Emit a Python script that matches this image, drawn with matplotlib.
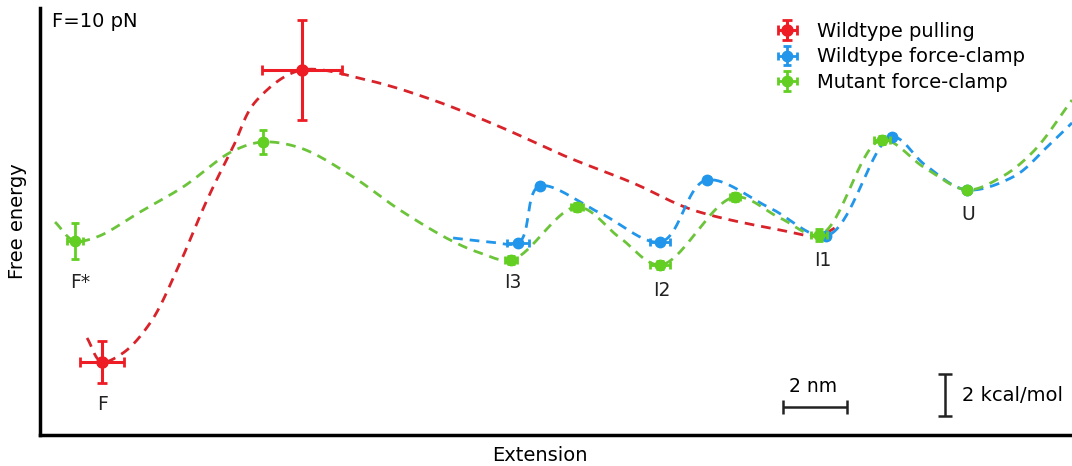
import matplotlib.pyplot as plt
import numpy as np

# units: extension in nm, free energy in kcal/mol (arbitrary origin)
red_x = [1.94, 8.19]
red_y = [3.48, 17.38]
red_xerr = [0.69, 1.25]
red_yerr = [1.0, 2.38]

blue_x = [14.94, 15.63, 19.38, 20.84, 24.56, 26.63, 28.97]
blue_y = [9.14, 11.86, 9.19, 12.14, 9.48, 14.19, 11.67]
blue_xerr = [0.34, 0.1, 0.31, 0.1, 0.1, 0.1, 0.1]
blue_yerr = [0.1, 0.1, 0.1, 0.1, 0.1, 0.1, 0.1]

green_x = [1.09, 6.97, 14.72, 16.78, 19.38, 21.72, 24.34, 26.31, 28.97]
green_y = [9.24, 13.95, 8.33, 10.86, 8.10, 11.33, 9.52, 14.05, 11.67]
green_xerr = [0.25, 0.1, 0.2, 0.2, 0.31, 0.15, 0.25, 0.25, 0.1]
green_yerr = [0.86, 0.57, 0.2, 0.2, 0.2, 0.2, 0.3, 0.2, 0.1]

# knots of the dashed landscape curves
red_curve_x = [1.47, 1.94, 2.59, 3.44, 4.28, 5.22, 6.03, 6.78, 8.19, 10.22, 12.28,
               14.38, 16.47, 18.53, 20.41, 23.13, 24.31, 24.94]
red_curve_y = [4.62, 3.48, 3.90, 5.33, 7.86, 11.19, 13.71, 15.95, 17.38, 16.90, 15.95,
               14.67, 13.24, 12.00, 10.71, 9.76, 9.48, 9.95]

green_curve_x = [0.47, 1.09, 1.78, 3.13, 4.47, 6.03, 6.97, 8.13, 9.69, 11.25, 12.81, 13.75,
                 14.72, 16.78, 18.13, 19.38, 21.72, 23.13, 24.34, 26.31, 27.66, 28.97,
                 30.0, 31.03, 32.25]
green_curve_y = [10.14, 9.24, 9.43, 10.62, 11.81, 13.52, 13.95, 13.67, 12.38, 10.71, 9.29, 8.67,
                 8.33, 10.86, 9.38, 8.10, 11.33, 10.33, 9.52, 14.05, 12.71, 11.67,
                 12.24, 13.48, 15.95]

blue_curve_x = [12.91, 14.06, 14.94, 15.63, 17.5, 19.38, 20.84, 22.81, 24.56, 26.63, 27.66,
                28.97, 30.41, 31.47, 32.25]
blue_curve_y = [9.38, 9.19, 9.14, 11.86, 10.57, 9.19, 12.14, 10.81, 9.48, 14.19, 12.86,
                11.67, 12.29, 13.71, 14.86]

state_labels = ['F*', 'F', 'I3', 'I2', 'I1', 'U']
state_x = [1.25, 1.94, 14.78, 19.44, 24.47, 29.0]
state_y = [7.24, 1.43, 7.24, 6.90, 8.33, 10.48]


def smooth(xk, yk, n=40, alpha=0.5):
    # centripetal Catmull-Rom through the knots
    p = np.column_stack([xk, yk]).astype(float)
    p = np.vstack([2 * p[0] - p[1], p, 2 * p[-1] - p[-2]])
    out = []
    for i in range(len(p) - 3):
        p0, p1, p2, p3 = p[i:i + 4]
        t0 = 0.0
        t1 = t0 + np.linalg.norm(p1 - p0) ** alpha
        t2 = t1 + np.linalg.norm(p2 - p1) ** alpha
        t3 = t2 + np.linalg.norm(p3 - p2) ** alpha
        t = np.linspace(t1, t2, n)[:, None]
        a1 = (t1 - t) / (t1 - t0) * p0 + (t - t0) / (t1 - t0) * p1
        a2 = (t2 - t) / (t2 - t1) * p1 + (t - t1) / (t2 - t1) * p2
        a3 = (t3 - t) / (t3 - t2) * p2 + (t - t2) / (t3 - t2) * p3
        b1 = (t2 - t) / (t2 - t0) * a1 + (t - t0) / (t2 - t0) * a2
        b2 = (t3 - t) / (t3 - t1) * a2 + (t - t1) / (t3 - t1) * a3
        c = (t2 - t) / (t2 - t1) * b1 + (t - t1) / (t2 - t1) * b2
        out.append(c if i == 0 else c[1:])
    c = np.vstack(out)
    return c[:, 0], c[:, 1]


red_line = '#d8232a'
red_pt = '#ee1c24'
blue_c = '#2196ea'
green_line = '#6cc43a'
green_pt = '#62cf22'

fig = plt.figure(figsize=(10.72, 4.66), dpi=100)
ax = fig.add_axes([40 / 1072, 31 / 466, 1032 / 1072, 427 / 466])

dash = (0, (3.5, 2.5))
ax.plot(*smooth(red_curve_x, red_curve_y), color=red_line, lw=2, ls=dash, zorder=2)
ax.plot(*smooth(blue_curve_x, blue_curve_y), color=blue_c, lw=2, ls=dash, zorder=2)
ax.plot(*smooth(green_curve_x, green_curve_y), color=green_line, lw=2, ls=dash, zorder=2)

eb_red = ax.errorbar(red_x, red_y, xerr=red_xerr, yerr=red_yerr, fmt='o', color=red_pt,
                     ms=8, elinewidth=2.2, capsize=3.5, capthick=2, zorder=3,
                     label='Wildtype pulling')
eb_blue = ax.errorbar(blue_x, blue_y, xerr=blue_xerr, yerr=blue_yerr, fmt='o', color=blue_c,
                      ms=7.5, elinewidth=2, capsize=3, capthick=2, zorder=3,
                      label='Wildtype force-clamp')
eb_green = ax.errorbar(green_x, green_y, xerr=green_xerr, yerr=green_yerr, fmt='o',
                       color=green_pt, ms=7.5, elinewidth=2, capsize=3, capthick=2, zorder=4,
                       label='Mutant force-clamp')

for lab, x, y in zip(state_labels, state_x, state_y):
    ax.text(x, y, lab, ha='center', va='center', fontsize=13.5, color='#222222')

ax.text(0.375, 19.67, 'F=10 pN', ha='left', va='center', fontsize=14)

# scale bars
ax.errorbar([24.22], [1.33], xerr=1, color='#222222', capsize=5, elinewidth=1.8, capthick=1.8)
ax.text(24.16, 2.29, '2 nm', ha='center', va='center', fontsize=13.5)
ax.errorbar([28.28], [1.9], yerr=1, color='#222222', capsize=5, elinewidth=1.8, capthick=1.8)
ax.text(28.81, 1.9, '2 kcal/mol', ha='left', va='center', fontsize=14)

ax.set_xlim(0, 32.25)
ax.set_ylim(0, 20.33)
ax.set_xticks([])
ax.set_yticks([])
for s in ['top', 'right']:
    ax.spines[s].set_visible(False)
for s in ['left', 'bottom']:
    ax.spines[s].set_linewidth(2.5)

ax.set_ylabel('Free energy', fontsize=14)
ax.yaxis.set_label_coords(-0.0126, 0.5)
ax.set_xlabel('Extension', fontsize=14)
ax.xaxis.set_label_coords(0.4845, -0.026)

ax.legend(handles=[eb_red, eb_blue, eb_green], loc='upper left',
          bbox_to_anchor=(768 / 1072, 1 - 22 / 466), bbox_transform=fig.transFigure,
          frameon=False, fontsize=14, handlelength=2.0, handletextpad=0.5,
          labelspacing=0.33, borderpad=0, borderaxespad=0)

fig.savefig('out.png', dpi=100)
